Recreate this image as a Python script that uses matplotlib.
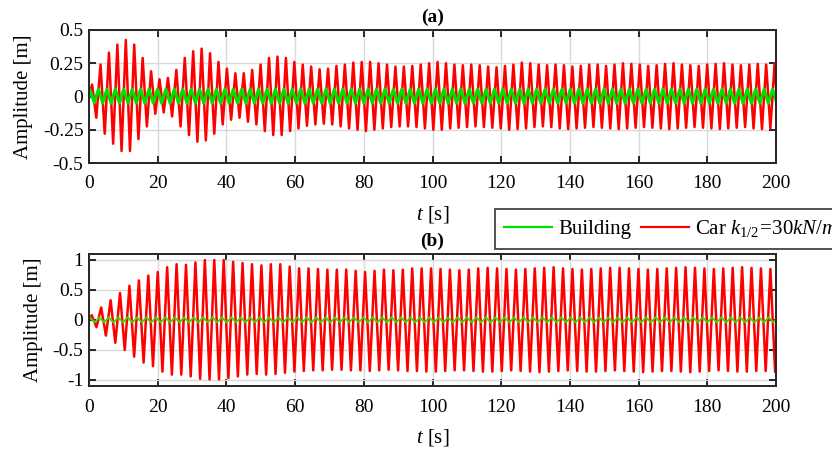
import numpy as np
import matplotlib
matplotlib.use('Agg')
import matplotlib.pyplot as plt
from matplotlib.lines import Line2D

plt.rcParams['font.family'] = ['Liberation Serif', 'DejaVu Serif']
plt.rcParams['mathtext.fontset'] = 'custom'
plt.rcParams['mathtext.rm'] = 'Liberation Serif'
plt.rcParams['mathtext.it'] = 'Liberation Serif:italic'
plt.rcParams['axes.unicode_minus'] = False

# ---- data: extrema of each oscillation cycle ----
# (a) first peak time and period [s]
t0_a, period_a = 0.9, 2.453
car_a_top = [0.09, 0.24, 0.33, 0.39, 0.425, 0.39, 0.29, 0.19, 0.13, 0.14, 0.20, 0.29, 0.34, 0.36,
             0.325, 0.26, 0.21, 0.175, 0.175, 0.20, 0.24,
             0.29, 0.30, 0.29, 0.26, 0.24, 0.225, 0.205, 0.21, 0.23, 0.24, 0.255, 0.26, 0.26, 0.25,
             0.24, 0.225, 0.225, 0.23, 0.24, 0.25, 0.26,
             0.25, 0.24, 0.235, 0.24, 0.235, 0.225, 0.22, 0.23, 0.24, 0.255, 0.25, 0.24, 0.235, 0.24,
             0.235, 0.225, 0.23, 0.24, 0.24, 0.23, 0.24, 0.25, 0.245, 0.24, 0.23, 0.235, 0.245, 0.25,
             0.24, 0.235, 0.23, 0.24, 0.245, 0.25, 0.24, 0.235, 0.24, 0.245, 0.24, 0.25]
car_a_bot = [-0.16, -0.28, -0.355, -0.41, -0.41, -0.32, -0.225, -0.13, -0.12, -0.15, -0.225, -0.29,
             -0.34, -0.33, -0.28, -0.21, -0.175, -0.16, -0.19, -0.21,
             -0.26, -0.29, -0.29, -0.26, -0.24, -0.22, -0.21, -0.205, -0.21, -0.225, -0.24, -0.25,
             -0.26, -0.25, -0.24, -0.23, -0.225, -0.225, -0.23, -0.24, -0.25, -0.25,
             -0.24, -0.235, -0.23, -0.225, -0.23, -0.235, -0.24, -0.25, -0.245, -0.24, -0.23, -0.225,
             -0.23, -0.24, -0.245, -0.24, -0.235, -0.23, -0.235, -0.24, -0.245, -0.24, -0.235, -0.23,
             -0.235, -0.24, -0.245, -0.24, -0.235, -0.23, -0.235, -0.24, -0.245, -0.24, -0.235, -0.23,
             -0.24, -0.245, -0.24, -0.235]
tb_a, bld_period_a = 0.3, 2.453
bld_a_top = [0.05, 0.055, 0.055, 0.055, 0.055, 0.055, 0.055, 0.055, 0.055, 0.055, 0.055, 0.055,
             0.055, 0.055, 0.055, 0.055, 0.055, 0.055, 0.055, 0.055, 0.055, 0.055, 0.055, 0.055,
             0.055, 0.055, 0.055, 0.055, 0.055, 0.055, 0.055, 0.055, 0.055, 0.055, 0.055, 0.055,
             0.055, 0.055, 0.055, 0.055, 0.055, 0.055, 0.055, 0.055, 0.055, 0.055, 0.055, 0.055,
             0.055, 0.055, 0.055, 0.055, 0.055, 0.055, 0.055, 0.055, 0.055, 0.055, 0.055, 0.055,
             0.055, 0.055, 0.055, 0.055, 0.055, 0.055, 0.055, 0.055, 0.055, 0.055, 0.055, 0.055,
             0.055, 0.055, 0.055, 0.055, 0.055, 0.055, 0.055, 0.055, 0.055, 0.055]
bld_a_bot = [-0.045, -0.05, -0.05, -0.05, -0.05, -0.05, -0.05, -0.05, -0.05, -0.05, -0.05, -0.05,
             -0.05, -0.05, -0.05, -0.05, -0.05, -0.05, -0.05, -0.05, -0.05, -0.05, -0.05, -0.05,
             -0.05, -0.05, -0.05, -0.05, -0.05, -0.05, -0.05, -0.05, -0.05, -0.05, -0.05, -0.05,
             -0.05, -0.05, -0.05, -0.05, -0.05, -0.05, -0.05, -0.05, -0.05, -0.05, -0.05, -0.05,
             -0.05, -0.05, -0.05, -0.05, -0.05, -0.05, -0.05, -0.05, -0.05, -0.05, -0.05, -0.05,
             -0.05, -0.05, -0.05, -0.05, -0.05, -0.05, -0.05, -0.05, -0.05, -0.05, -0.05, -0.05,
             -0.05, -0.05, -0.05, -0.05, -0.05, -0.05, -0.05, -0.05, -0.05, -0.05]

# (b)
t0_b, period_b = 0.8, 2.744
car_b_top = [0.08, 0.21, 0.33, 0.45, 0.57, 0.66, 0.74, 0.80, 0.88, 0.93, 0.92, 0.96, 1.0, 1.0, 1.0,
             0.97, 0.95, 0.93,
             0.91, 0.93, 0.93, 0.89, 0.86, 0.86, 0.85, 0.84, 0.84, 0.84, 0.82, 0.80, 0.82, 0.84,
             0.83, 0.84, 0.86, 0.86, 0.86,
             0.85, 0.84, 0.83, 0.84, 0.86, 0.87, 0.86, 0.85, 0.84, 0.85, 0.86, 0.87, 0.88, 0.86,
             0.85, 0.84, 0.85, 0.86, 0.87, 0.87, 0.86, 0.85, 0.84, 0.85, 0.86, 0.87, 0.88, 0.87,
             0.86, 0.85, 0.86, 0.87, 0.88, 0.87, 0.86, 0.85]
car_b_bot = [-0.12, -0.26, -0.38, -0.50, -0.61, -0.71, -0.77, -0.86, -0.91, -0.91, -0.94, -0.98,
             -0.99, -0.99, -0.97, -0.94, -0.91, -0.90,
             -0.91, -0.90, -0.88, -0.86, -0.85, -0.84, -0.84, -0.83, -0.83, -0.84, -0.84, -0.85,
             -0.84, -0.83, -0.84, -0.85, -0.85, -0.86, -0.86,
             -0.85, -0.84, -0.84, -0.85, -0.86, -0.86, -0.85, -0.84, -0.85, -0.86, -0.87, -0.86,
             -0.85, -0.84, -0.85, -0.86, -0.86, -0.85, -0.84, -0.85, -0.86, -0.87, -0.86, -0.85,
             -0.85, -0.86, -0.87, -0.86, -0.85, -0.84, -0.85, -0.86, -0.86, -0.85, -0.85, -0.86]
tb_b, bld_period_b = 0.3, 2.744
bld_b_top = [0.04, 0.045, 0.045, 0.045, 0.045, 0.045, 0.045, 0.045, 0.045, 0.045, 0.045, 0.045,
             0.045, 0.045, 0.045, 0.045, 0.045, 0.045, 0.045, 0.045, 0.045, 0.045, 0.045, 0.045,
             0.045, 0.045, 0.045, 0.045, 0.045, 0.045, 0.045, 0.045, 0.045, 0.045, 0.045, 0.045,
             0.045, 0.045, 0.045, 0.045, 0.045, 0.045, 0.045, 0.045, 0.045, 0.045, 0.045, 0.045,
             0.045, 0.045, 0.045, 0.045, 0.045, 0.045, 0.045, 0.045, 0.045, 0.045, 0.045, 0.045,
             0.045, 0.045, 0.045, 0.045, 0.045, 0.045, 0.045, 0.045, 0.045, 0.045, 0.045, 0.045,
             0.045, 0.045]
bld_b_bot = [-0.04, -0.04, -0.04, -0.04, -0.04, -0.04, -0.04, -0.04, -0.04, -0.04, -0.04, -0.04,
             -0.04, -0.04, -0.04, -0.04, -0.04, -0.04, -0.04, -0.04, -0.04, -0.04, -0.04, -0.04,
             -0.04, -0.04, -0.04, -0.04, -0.04, -0.04, -0.04, -0.04, -0.04, -0.04, -0.04, -0.04,
             -0.04, -0.04, -0.04, -0.04, -0.04, -0.04, -0.04, -0.04, -0.04, -0.04, -0.04, -0.04,
             -0.04, -0.04, -0.04, -0.04, -0.04, -0.04, -0.04, -0.04, -0.04, -0.04, -0.04, -0.04,
             -0.04, -0.04, -0.04, -0.04, -0.04, -0.04, -0.04, -0.04, -0.04, -0.04, -0.04, -0.04,
             -0.04, -0.04]

x_ticks = [0, 20, 40, 60, 80, 100, 120, 140, 160, 180, 200]
y_ticks_a = [-0.5, -0.25, 0, 0.25, 0.5]
y_ticks_b = [-1, -0.5, 0, 0.5, 1]


def trace(t0, period, tops, bots):
    # peak at t0 + k*T, trough half a period later; curve starts from rest
    k = np.arange(len(tops))
    t = np.empty(2 * len(tops))
    y = np.empty(2 * len(tops))
    t[0::2] = t0 + k * period
    t[1::2] = t0 + (k + 0.5) * period
    y[0::2] = tops
    y[1::2] = bots
    return np.r_[0, t], np.r_[0, y]


def style(ax, yticks, ylim, title):
    ax.set_xlim(0, 200)
    ax.set_ylim(*ylim)
    ax.set_xticks(x_ticks)
    ax.set_yticks(yticks)
    ax.set_yticklabels(['%g' % v for v in yticks])
    ax.grid(True, color='#d9d9d9', lw=1.0)
    ax.set_axisbelow(True)
    ax.tick_params(direction='in', top=True, right=True, length=5, width=1.4,
                   labelsize=14, color='#262626')
    ax.tick_params(axis='x', pad=9)
    ax.tick_params(axis='y', pad=4)
    for s in ax.spines.values():
        s.set_linewidth(1.4)
        s.set_color('#262626')
    ax.set_ylabel('Amplitude [m]', fontsize=15, labelpad=7)
    ax.set_xlabel(r'$\mathit{t}$ [s]', fontsize=15, labelpad=8)
    ax.set_title(title, fontsize=14, fontweight='bold', pad=6)


fig = plt.figure(figsize=(8.32, 4.5), dpi=100)
ax1 = fig.add_axes([89 / 832, 1 - 163 / 450, 687 / 832, 133 / 450])
ax2 = fig.add_axes([89 / 832, 1 - 386 / 450, 687 / 832, 132 / 450])

green = '#00e000'
red = '#ff0000'

t, y = trace(t0_a, period_a, car_a_top, car_a_bot)
ax1.plot(t, y, color=red, lw=1.8)
t, y = trace(tb_a, bld_period_a, bld_a_top, bld_a_bot)
ax1.plot(t, y, color=green, lw=2.2)
style(ax1, y_ticks_a, (-0.5, 0.5), '(a)')

t, y = trace(t0_b, period_b, car_b_top, car_b_bot)
ax2.plot(t, y, color=red, lw=1.8)
t, y = trace(tb_b, bld_period_b, bld_b_top, bld_b_bot)
ax2.plot(t, y, color='#33dd00', lw=1.3)
style(ax2, y_ticks_b, (-1.1, 1.1), '(b)')

handles = [Line2D([], [], color=green, lw=1.6), Line2D([], [], color=red, lw=1.6)]
labels = ['Building', r'Car $\mathit{k}_{\mathit{1/2}}\!=\!\mathit{30kN/m}$']
leg = fig.legend(handles, labels, loc='upper left', bbox_to_anchor=(495 / 832, 1 - 209 / 450),
                 ncol=2, fontsize=15, frameon=True, fancybox=False, edgecolor='#262626',
                 borderpad=0.45, handlelength=2.3, handletextpad=0.3, columnspacing=0.45,
                 borderaxespad=0)
leg.get_frame().set_linewidth(1.4)

fig.savefig('out.png', dpi=100)
